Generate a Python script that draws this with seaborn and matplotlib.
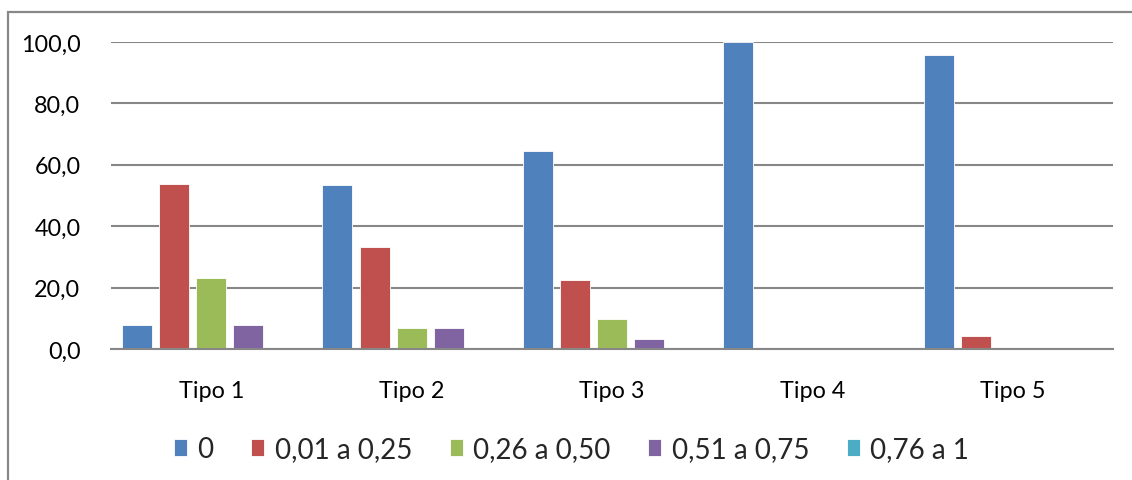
import matplotlib
matplotlib.use("Agg")
import matplotlib.pyplot as plt
from matplotlib.patches import Rectangle
import seaborn as sns
import pandas as pd

categorias = ["Tipo 1", "Tipo 2", "Tipo 3", "Tipo 4", "Tipo 5"]
faixas = ["0", "0,01 a 0,25", "0,26 a 0,50", "0,51 a 0,75", "0,76 a 1"]
valores_0 = [7.7, 53.3, 64.5, 100.0, 95.8]
valores_001_025 = [53.8, 33.3, 22.6, 0.0, 4.2]
valores_026_050 = [23.1, 6.7, 9.7, 0.0, 0.0]
valores_051_075 = [7.7, 6.7, 3.2, 0.0, 0.0]
valores_076_1 = [0.0, 0.0, 0.0, 0.0, 0.0]
yticks = [0, 20, 40, 60, 80, 100]
cores = ["#4F81BD", "#C0504D", "#9BBB59", "#8064A2", "#4BACC6"]

series = [valores_0, valores_001_025, valores_026_050, valores_051_075, valores_076_1]
linhas = []
for faixa, vals in zip(faixas, series):
    for cat, v in zip(categorias, vals):
        linhas.append({"Tipo": cat, "Faixa": faixa, "Valor": v})
df = pd.DataFrame(linhas)

sns.set_theme(style="white")
plt.rcParams["font.family"] = ["Lato", "DejaVu Sans"]

fig = plt.figure(figsize=(11.32, 4.81), dpi=100)
ax = fig.add_axes([111 / 1132, 1 - 350 / 481, (1113 - 111) / 1132, (350 - 43) / 481])

sns.barplot(data=df, x="Tipo", y="Valor", hue="Faixa", order=categorias,
            hue_order=faixas, palette=cores, width=0.925, gap=0.19,
            errorbar=None, saturation=1, edgecolor="#FFFFFF", linewidth=0.6,
            ax=ax)

ax.set_xlim(-0.5, 4.5)
ax.set_ylim(0, 100)
ax.set_yticks(yticks)
ax.set_yticklabels([f"{t:.1f}".replace(".", ",") for t in yticks])
ax.set_xlabel("")
ax.set_ylabel("")

grid_color = "#878787"
ax.yaxis.grid(True, color=grid_color, linewidth=1.5)
ax.set_axisbelow(True)
for side in ["top", "right", "left"]:
    ax.spines[side].set_visible(False)
ax.spines["bottom"].set_color(grid_color)
ax.spines["bottom"].set_linewidth(1.5)
ax.tick_params(axis="both", length=0, labelsize=16.8, colors="#000000")
ax.tick_params(axis="x", pad=22)
ax.tick_params(axis="y", pad=22)

handles, labels = ax.get_legend_handles_labels()
ax.get_legend().remove()
fig.legend(handles, labels, loc="center", bbox_to_anchor=(0.505, 1 - 450 / 481),
           ncol=5, frameon=False, fontsize=20, handlelength=0.47,
           handleheight=0.55, handletextpad=0.38, columnspacing=1.35,
           borderaxespad=0)

# outer chart frame
fig.patches.append(Rectangle((8 / 1132, -0.2), 1.2, 1.2 - 13 / 481,
                             transform=fig.transFigure, fill=False,
                             edgecolor="#888888", linewidth=1.6))

fig.savefig("out.png", dpi=100)
